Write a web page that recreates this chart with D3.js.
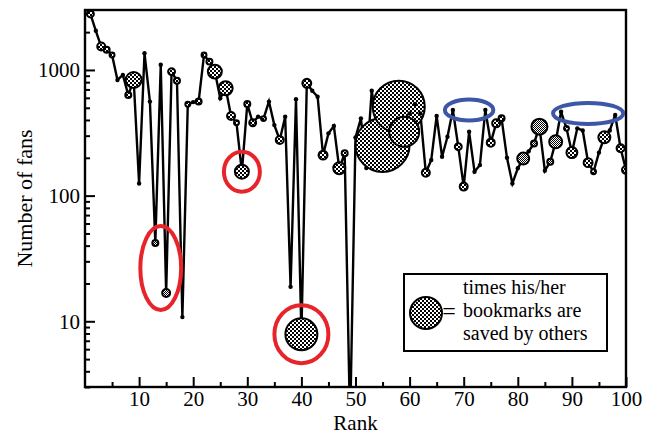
<!DOCTYPE html>
<html>
<head>
<meta charset="utf-8">
<script src="https://cdn.jsdelivr.net/npm/d3@7"></script>
<style>
    body { margin: 0; background: #fff; }
    svg { display: block; }
</style>
</head>
<body>
<svg id="chart" width="651" height="436"></svg>
<script>
// number of fans for rank 1..100
var fans = [
    2790, 2050, 1535, 1450, 1317, 832, 912, 632, 832, 125,
    1359, 560, 42, 1100, 16.8, 970, 820, 10.8, 533, 555,
    560, 1317, 1165, 970, 595, 715, 430, 380, 155, 536,
    380, 425, 410, 560, 364, 277, 425, 18.8, 584, 7.9,
    783, 684, 613, 210, 313, 358, 165, 217, 1.5, 290,
    412, 166, 684, 350, 253, 400, 600, 510, 322, 450,
    536, 450, 152, 192, 430, 204, 294, 480, 245, 118,
    322, 155, 175, 480, 264, 376, 412, 200, 125, 165,
    197, 225, 260, 354, 158, 186, 268, 465, 343, 220,
    343, 330, 183, 155, 220, 291, 330, 438, 238, 160
];
// times his/her bookmarks are saved by others (bubble area), 0 = no bubble
var saved = [
    12, 0, 16, 9, 6, 0, 0, 9, 64, 0,
    0, 0, 9, 0, 16, 12, 9, 0, 6, 0,
    9, 6, 9, 49, 0, 49, 16, 6, 49, 9,
    12, 0, 6, 0, 0, 16, 0, 0, 0, 256,
    20, 0, 0, 20, 0, 0, 36, 9, 0, 0,
    0, 0, 0, 0, 730, 0, 0, 677, 225, 0,
    0, 0, 16, 0, 0, 0, 0, 0, 12, 16,
    0, 0, 0, 0, 16, 16, 9, 0, 0, 0,
    36, 0, 9, 64, 0, 9, 42, 0, 6, 30,
    0, 0, 20, 6, 0, 36, 0, 0, 16, 16
];
// bubbles drawn with the fine (grey) checker
var greyRanks = [13, 15, 81, 83, 84, 86, 87];
// highlighted ranks
var redRanks = [[13, 15], [29, 29], [40, 40]];
var blueRanks = [[68, 74], [88, 98]];
var xTicks = [10, 20, 30, 40, 50, 60, 70, 80, 90, 100];
var xMinor = [5, 15, 25, 35, 45, 55, 65, 75, 85, 95];
var yTicks = [10, 100, 1000];
var yMinor = [3, 4, 5, 6, 7, 8, 9, 20, 30, 40, 50, 60, 70, 80, 90,
              200, 300, 400, 500, 600, 700, 800, 900, 2000, 3000];
var legendLines = ["times his/her", "bookmarks are", "saved by others"];

var data = fans.map(function (f, i) {
    return { rank: i + 1, fans: f, saved: saved[i], grey: greyRanks.indexOf(i + 1) >= 0 };
});

var serif = "'Liberation Serif', 'Times New Roman', serif";
var pL = 85, pR = 626, pT = 10, pB = 387;
var svg = d3.select("#chart");
var x = d3.scaleLinear().domain([0, 100]).range([pL, pR]);
var y = d3.scaleLog().domain([3, 3000]).range([pB, pT]);
var r = d3.scaleSqrt().domain([0, 730]).range([0, 27]);

// checker patterns
var defs = svg.append("defs");
function checker(id, s) {
    var p = defs.append("pattern").attr("id", id)
        .attr("patternUnits", "userSpaceOnUse")
        .attr("width", s * 2).attr("height", s * 2);
    p.append("rect").attr("width", s * 2).attr("height", s * 2).attr("fill", "#fff");
    p.append("rect").attr("width", s).attr("height", s).attr("fill", "#000");
    p.append("rect").attr("x", s).attr("y", s).attr("width", s).attr("height", s).attr("fill", "#000");
}
checker("chk", 2);
checker("chkFine", 1);
defs.append("clipPath").attr("id", "plotClip")
    .append("rect").attr("x", pL).attr("y", pT)
    .attr("width", pR - pL).attr("height", pB - pT);

var plot = svg.append("g").attr("clip-path", "url(#plotClip)");

// line
plot.append("path")
    .datum(data)
    .attr("fill", "none")
    .attr("stroke", "#000")
    .attr("stroke-width", 2.4)
    .attr("stroke-linejoin", "miter")
    .attr("d", d3.line().x(function (d) { return x(d.rank); })
                        .y(function (d) { return y(d.fans); }));

// dots and bubbles in rank order
plot.selectAll(".pt")
    .data(data)
    .enter().append("circle")
    .attr("class", "pt")
    .attr("cx", function (d) { return x(d.rank); })
    .attr("cy", function (d) { return y(d.fans); })
    .attr("r", function (d) { return d.saved > 0 ? r(d.saved) : 2.2; })
    .attr("fill", function (d) {
        if (d.saved === 0) return "#000";
        return d.grey ? "url(#chkFine)" : "url(#chk)";
    })
    .attr("stroke", "#000")
    .attr("stroke-width", function (d) { return d.saved > 0 ? 2 : 0; });

// frame
svg.append("rect")
    .attr("x", pL).attr("y", pT)
    .attr("width", pR - pL).attr("height", pB - pT)
    .attr("fill", "none").attr("stroke", "#000").attr("stroke-width", 2.4);

// axes
svg.append("g").attr("transform", "translate(0," + pB + ")")
    .call(d3.axisBottom(x).tickValues(xTicks).tickSize(-10).tickPadding(4));
svg.append("g").attr("transform", "translate(0," + pB + ")")
    .call(d3.axisBottom(x).tickValues(xMinor).tickSize(-5).tickFormat(""));
svg.append("g").attr("transform", "translate(" + pL + ",0)")
    .call(d3.axisLeft(y).tickValues(yTicks).tickSize(-10).tickPadding(5).tickFormat(d3.format("d")));
svg.append("g").attr("transform", "translate(" + pL + ",0)")
    .call(d3.axisLeft(y).tickValues(yMinor).tickSize(-5).tickFormat(""));
svg.selectAll(".domain").remove();
svg.selectAll(".tick line").attr("stroke", "#000").attr("stroke-width", 2);
svg.selectAll(".tick text").attr("fill", "#000")
    .style("font-size", "21px").style("font-family", serif);

svg.append("text")
    .attr("x", (pL + pR) / 2).attr("y", 430)
    .attr("text-anchor", "middle")
    .style("font-size", "21px").style("font-family", serif)
    .text("Rank");
svg.append("text")
    .attr("transform", "translate(32," + (pT + pB) / 2 + ") rotate(-90)")
    .attr("text-anchor", "middle")
    .style("font-size", "22px").style("font-family", serif)
    .text("Number of fans");

// highlight ellipses
function logMid(a, b) { return Math.sqrt(fans[a - 1] * fans[b - 1]); }
redRanks.forEach(function (d) {
    var big = d3.max(d3.range(d[0], d[1] + 1), function (k) { return r(saved[k - 1]); });
    var pad = big + 13;
    svg.append("ellipse")
        .attr("cx", (x(d[0]) + x(d[1])) / 2)
        .attr("cy", (y(fans[d[0] - 1]) + y(fans[d[1] - 1])) / 2)
        .attr("rx", (x(d[1]) - x(d[0])) / 2 + pad - 2)
        .attr("ry", Math.abs(y(fans[d[0] - 1]) - y(fans[d[1] - 1])) / 2 + pad)
        .attr("fill", "none").attr("stroke", "#e8242b").attr("stroke-width", 4);
});
blueRanks.forEach(function (d) {
    svg.append("ellipse")
        .attr("cx", (x(d[0]) + x(d[1])) / 2)
        .attr("cy", y(logMid(d[0], d[1])))
        .attr("rx", (x(d[1]) - x(d[0])) / 2 + 8)
        .attr("ry", 10.5)
        .attr("fill", "none").attr("stroke", "#3d57a6").attr("stroke-width", 4);
});

// legend
var lg = svg.append("g").attr("transform", "translate(404,274)");
lg.append("rect").attr("width", 203).attr("height", 77)
    .attr("fill", "#fff").attr("stroke", "#000").attr("stroke-width", 2);
lg.append("circle").attr("cx", 22).attr("cy", 39).attr("r", 16)
    .attr("fill", "url(#chk)").attr("stroke", "#000").attr("stroke-width", 2);
lg.append("text").attr("x", 45).attr("y", 45)
    .attr("text-anchor", "middle")
    .style("font-size", "24px").style("font-family", serif)
    .text("=");
lg.selectAll(".lt").data(legendLines).enter().append("text")
    .attr("class", "lt")
    .attr("x", 59)
    .attr("y", function (d, i) { return 20 + i * 23; })
    .style("font-size", "20px").style("font-family", serif)
    .text(function (d) { return d; });
</script>
</body>
</html>
